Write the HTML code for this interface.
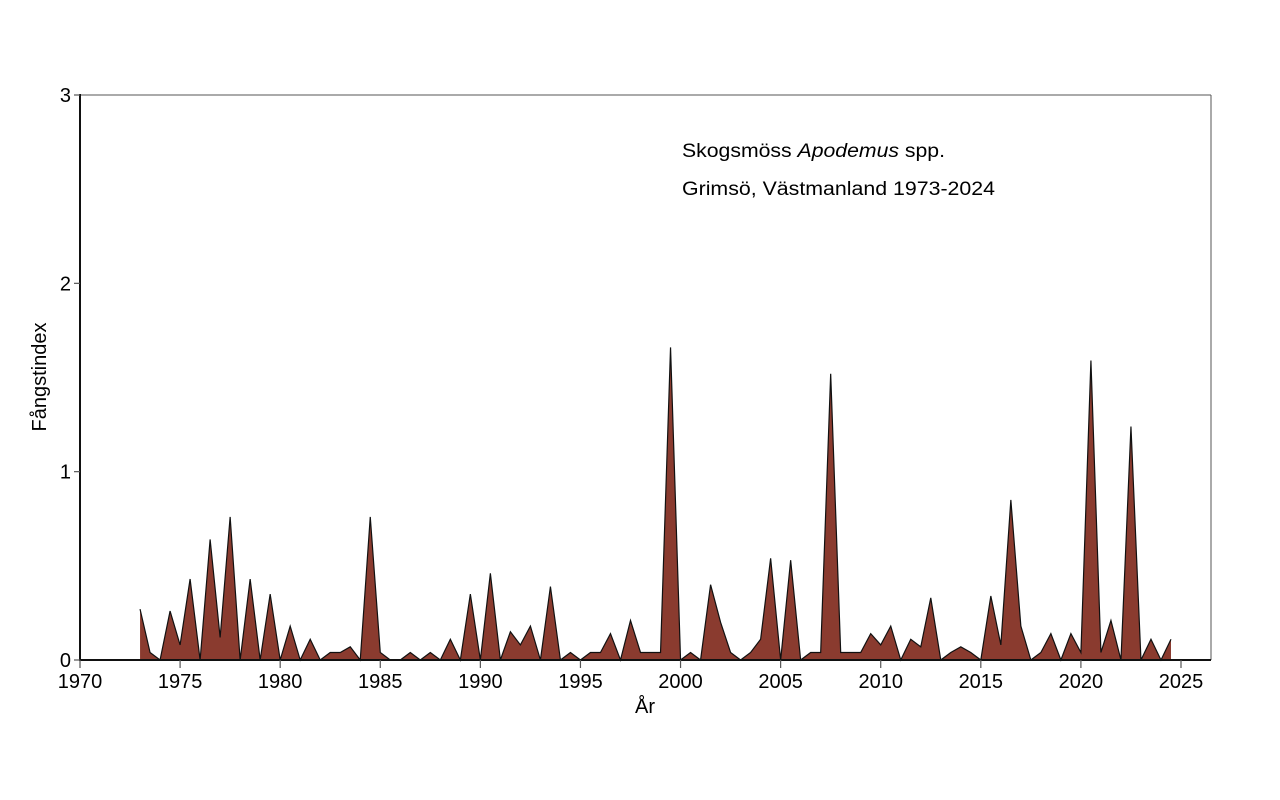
<!DOCTYPE html>
<html><head><meta charset="utf-8"><style>
html,body{margin:0;padding:0;background:#fff;}
svg{display:block;font-family:"Liberation Sans",Arial,sans-serif;}
</style></head><body>
<svg id="chart" width="1280" height="800" viewBox="0 0 1280 800" xmlns="http://www.w3.org/2000/svg">
<rect x="0" y="0" width="1280" height="800" fill="#fff"/>
<g id="plot"></g>
<line x1="80" y1="95" x2="1211" y2="95" stroke="#555" stroke-width="1"/>
<line x1="1211" y1="95" x2="1211" y2="660" stroke="#555" stroke-width="1"/>
<line x1="80" y1="94" x2="80" y2="661" stroke="#111" stroke-width="2"/>
<line x1="79" y1="660" x2="1211" y2="660" stroke="#111" stroke-width="2"/>
<g id="axes"></g>
<text x="682" y="157" font-size="19" textLength="263" lengthAdjust="spacingAndGlyphs">Skogsmöss <tspan font-style="italic">Apodemus</tspan> spp.</text>
<text x="682" y="195" font-size="19" textLength="313" lengthAdjust="spacingAndGlyphs">Grimsö, Västmanland 1973-2024</text>
<text x="645" y="713" font-size="20" text-anchor="middle">År</text>
<text x="0" y="0" font-size="20" text-anchor="middle" transform="translate(46,377) rotate(-90)">Fångstindex</text>
</svg>
<script>
// time points: spring (year) and autumn (year + 0.5)
const times = [];
for (let y = 1973; y <= 2024; y++) { times.push(y); times.push(y + 0.5); }
const values = [
0.27,0.04, 0,0.26, 0.08,0.43, 0,0.64, 0.12,0.76, 0,0.43, 0,0.35, 0,0.18, 0,0.11, 0,0.04,
0.04,0.07, 0,0.76, 0.04,0, 0,0.04, 0,0.04, 0,0.11, 0,0.35, 0,0.46, 0,0.15, 0.08,0.18,
0,0.39, 0,0.04, 0,0.04, 0.04,0.14, 0,0.21, 0.04,0.04, 0.04,1.66, 0,0.04, 0,0.40, 0.20,0.04,
0,0.04, 0.11,0.54, 0,0.53, 0,0.04, 0.04,1.52, 0.04,0.04, 0.04,0.14, 0.08,0.18, 0,0.11,
0.07,0.33, 0,0.04, 0.07,0.04, 0,0.34, 0.08,0.85, 0.18,0, 0.04,0.14, 0,0.14, 0.04,1.59,
0.04,0.21, 0,1.24, 0,0.11, 0,0.11
];
const xTicks = [1970,1975,1980,1985,1990,1995,2000,2005,2010,2015,2020,2025];
const yTicks = [0,1,2,3];

const X0=80, X1=1181, Y0=660, Y1=95;
const xScale = t => X0 + (t-1970)/(2025-1970)*(X1-X0);
const yScale = v => Y0 - v/3*(Y0-Y1);
const NS="http://www.w3.org/2000/svg";
const plot=document.getElementById('plot'), axes=document.getElementById('axes');
const n = Math.min(times.length, values.length);
let d = `M${xScale(times[0])},${Y0}`;
for (let i=0;i<n;i++) d += ` L${xScale(times[i]).toFixed(2)},${yScale(values[i]).toFixed(2)}`;
d += ` L${xScale(times[n-1]).toFixed(2)},${Y0} Z`;
const area=document.createElementNS(NS,'path');
area.setAttribute('d',d);
area.setAttribute('fill','#8a3b2f');
area.setAttribute('stroke','none');


plot.appendChild(area);
let ld = '';
for (let i=0;i<n;i++) ld += (i?' L':'M')+xScale(times[i]).toFixed(2)+','+yScale(values[i]).toFixed(2);
const line=document.createElementNS(NS,'path');
line.setAttribute('d',ld);
line.setAttribute('fill','none');
line.setAttribute('stroke','#111');
line.setAttribute('stroke-width','1.2');


plot.appendChild(line);

xTicks.forEach(t=>{
  const x=xScale(t);
  const tk=document.createElementNS(NS,'line');
  tk.setAttribute('x1',x);tk.setAttribute('x2',x);tk.setAttribute('y1',660);tk.setAttribute('y2',668);
  tk.setAttribute('stroke','#555');tk.setAttribute('stroke-width','1.2');
  
  
  axes.appendChild(tk);
  const lb=document.createElementNS(NS,'text');
  lb.setAttribute('x',x);lb.setAttribute('y',688);lb.setAttribute('font-size','20');lb.setAttribute('text-anchor','middle');
  lb.textContent=t;
  
  
  axes.appendChild(lb);
});
yTicks.forEach(v=>{
  const y=yScale(v);
  const tk=document.createElementNS(NS,'line');
  tk.setAttribute('x1',74);tk.setAttribute('x2',80);tk.setAttribute('y1',y);tk.setAttribute('y2',y);
  tk.setAttribute('stroke','#555');tk.setAttribute('stroke-width','1.2');
  
  
  axes.appendChild(tk);
  const lb=document.createElementNS(NS,'text');
  lb.setAttribute('x',71);lb.setAttribute('y',y+7);lb.setAttribute('font-size','20');lb.setAttribute('text-anchor','end');
  lb.textContent=v;
  
  
  axes.appendChild(lb);
});
</script>
</body></html>
